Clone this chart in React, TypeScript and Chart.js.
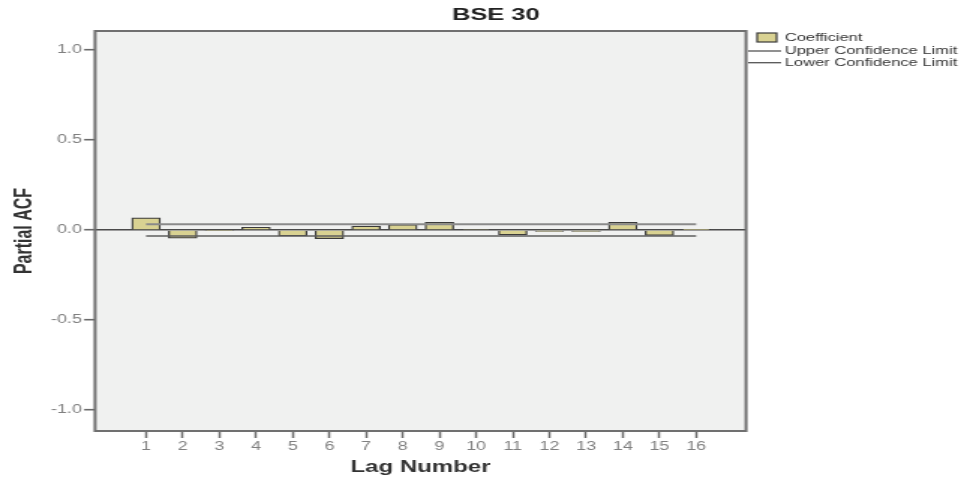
import React, { useEffect, useRef } from "react";
import { Chart, registerables } from "chart.js";

Chart.register(...registerables);

// ---- data ----
const chartTitle = "BSE 30";
const lags = [1, 2, 3, 4, 5, 6, 7, 8, 9, 10, 11, 12, 13, 14, 15, 16];
const coefficient = [0.068, -0.046, -0.003, 0.015, -0.033, -0.048, 0.022, 0.03, 0.043, 0.004, -0.028, -0.008, -0.008, 0.043, -0.03, 0.002];
const upperLimit = [0.032, 0.032, 0.032, 0.032, 0.032, 0.032, 0.032, 0.032, 0.032, 0.032, 0.032, 0.032, 0.032, 0.032, 0.032, 0.032];
const lowerLimit = [-0.033, -0.033, -0.033, -0.033, -0.033, -0.033, -0.033, -0.033, -0.033, -0.033, -0.033, -0.033, -0.033, -0.033, -0.033, -0.033];
const yTicks = [-1.0, -0.5, 0.0, 0.5, 1.0];
const seriesLabels = ["Coefficient", "Upper Confidence Limit", "Lower Confidence Limit"];
const xTitle = "Lag Number";
const yTitle = "Partial ACF";

// canvas drawn narrower then stretched horizontally (reference is stretched)
const CW = 647;
const CH = 477;
const SHOW_W = 970;

const FONT = "'Liberation Sans', Arial, sans-serif";
const BAR_FILL = "#d9d292";
const BAR_EDGE = "#3a3a3a";
const UPPER_COL = "#8a8a8a";
const LOWER_COL = "#5e5e5e";

const decorPlugin = {
  id: "decor",
  beforeDraw(chart: any) {
    const { ctx, chartArea: a } = chart;
    ctx.save();
    ctx.fillStyle = "#ffffff";
    ctx.fillRect(0, 0, chart.width, chart.height);
    ctx.fillStyle = "#f0f1f0";
    ctx.fillRect(a.left, a.top, a.right - a.left, a.bottom - a.top);
    ctx.restore();
  },
  afterDraw(chart: any) {
    const { ctx, chartArea: a } = chart;
    ctx.save();
    // frame
    ctx.strokeStyle = "#707070";
    ctx.lineWidth = 2;
    ctx.strokeRect(a.left, a.top, a.right - a.left, a.bottom - a.top);
    // title
    ctx.fillStyle = "#222";
    ctx.font = `bold 17px ${FONT}`;
    ctx.textAlign = "center";
    ctx.textBaseline = "middle";
    ctx.fillText(chartTitle, 330.7, 15);
    // legend
    const ds = chart.data.datasets;
    ctx.font = `11px ${FONT}`;
    ctx.textAlign = "left";
    ctx.fillStyle = ds[0].backgroundColor;
    ctx.fillRect(505, 33, 13, 9);
    ctx.strokeStyle = ds[0].borderColor;
    ctx.lineWidth = 1.2;
    ctx.strokeRect(505, 33, 13, 9);
    ctx.fillStyle = "#333";
    ctx.fillText(ds[0].label, 523.5, 37.5);
    const rows = [
      { d: ds[1], y: 51 },
      { d: ds[2], y: 62.7 },
    ];
    rows.forEach((r) => {
      ctx.strokeStyle = "#555";
      ctx.lineWidth = 1.3;
      ctx.beginPath();
      ctx.moveTo(499, r.y);
      ctx.lineTo(521, r.y);
      ctx.stroke();
      ctx.fillStyle = "#333";
      ctx.fillText(r.d.label, 523.5, r.y);
    });
    ctx.restore();
  },
};

export default function App() {
  const ref = useRef<HTMLCanvasElement | null>(null);

  useEffect(() => {
    if (!ref.current) return;
    const chart = new Chart(ref.current, {
      type: "bar",
      data: {
        datasets: [
          {
            type: "bar",
            label: seriesLabels[0],
            data: lags.map((x, i) => ({ x, y: coefficient[i] })),
            backgroundColor: BAR_FILL,
            borderColor: BAR_EDGE,
            borderWidth: 1.3,
            barThickness: 19,
            order: 2,
          } as any,
          {
            type: "line",
            label: seriesLabels[1],
            data: lags.map((x, i) => ({ x, y: upperLimit[i] })),
            borderColor: UPPER_COL,
            borderWidth: 2.2,
            pointRadius: 0,
            fill: false,
            order: 1,
          } as any,
          {
            type: "line",
            label: seriesLabels[2],
            data: lags.map((x, i) => ({ x, y: lowerLimit[i] })),
            borderColor: LOWER_COL,
            borderWidth: 1.4,
            pointRadius: 0,
            fill: false,
            order: 1,
          } as any,
        ],
      },
      options: {
        responsive: false,
        maintainAspectRatio: false,
        animation: false,
        devicePixelRatio: 1,
        layout: { padding: { top: 31, right: 149.4, left: 0, bottom: 0 } },
        plugins: {
          legend: { display: false },
          title: { display: false },
          tooltip: { enabled: false },
        },
        scales: {
          x: {
            type: "linear",
            offset: false,
            min: -0.39,
            max: 17.36,
            afterBuildTicks: (s: any) => {
              s.ticks = lags.map((v) => ({ value: v }));
            },
            afterFit: (s: any) => {
              s.height = 46;
            },
            ticks: {
              autoSkip: false,
              maxRotation: 0,
              padding: 1,
              color: "#808080",
              font: { family: FONT, size: 12 },
              callback: (v: any) => String(v),
            },
            grid: {
              offset: false,
              drawOnChartArea: false,
              tickLength: 7,
              tickColor: "#6a6a6a",
              tickWidth: 1.5,
            },
            border: { display: false },
            title: {
              display: true,
              text: xTitle,
              color: "#333",
              font: { family: FONT, size: 16, weight: "bold" },
              padding: { top: 0, bottom: 0 },
            },
          },
          y: {
            type: "linear",
            min: -1.1167,
            max: 1.1056,
            afterBuildTicks: (s: any) => {
              s.ticks = yTicks.map((v) => ({ value: v }));
            },
            afterFit: (s: any) => {
              s.width = 63.4;
            },
            ticks: {
              padding: 1.5,
              color: "#808080",
              font: { family: FONT, size: 12 },
              callback: (v: any) => Number(v).toFixed(1),
            },
            grid: {
              drawOnChartArea: true,
              color: (c: any) => (c.tick && c.tick.value === 0 ? "#4a4a4a" : "rgba(0,0,0,0)"),
              lineWidth: 1.4,
              tickLength: 7.3,
              tickColor: "#6a6a6a",
              tickWidth: 1.6,
            },
            border: { display: false },
            title: {
              display: true,
              text: yTitle,
              color: "#333",
              font: { family: FONT, size: 16, weight: "bold" },
              padding: { top: 7, bottom: 0 },
            },
          },
        },
      },
      plugins: [decorPlugin],
    });
    return () => chart.destroy();
  }, []);

  return (
    <div style={{ position: "absolute", left: 0, top: 0, width: SHOW_W, height: CH, background: "#fff" }}>
      <canvas ref={ref} width={CW} height={CH} style={{ width: `${SHOW_W}px`, height: `${CH}px`, display: "block" }} />
    </div>
  );
}
